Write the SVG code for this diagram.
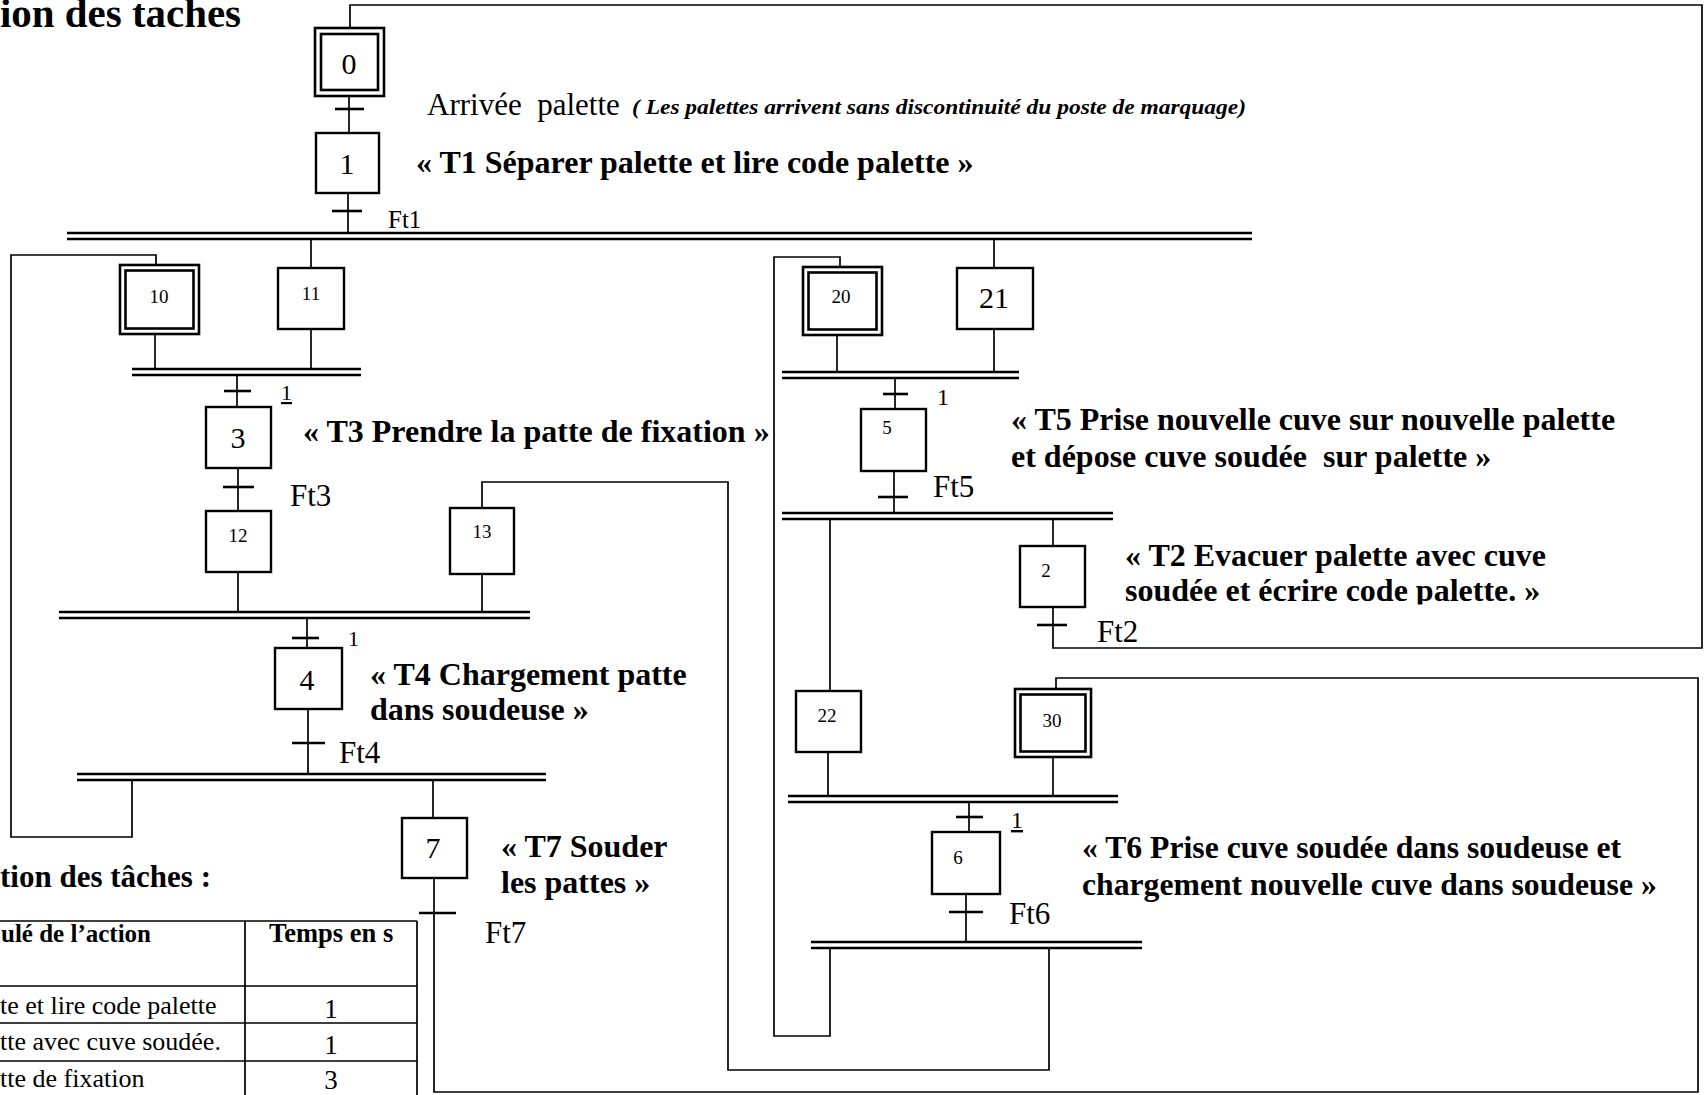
<svg xmlns="http://www.w3.org/2000/svg" width="1705" height="1095" viewBox="0 0 1705 1095">
<style>
.ln{fill:none;stroke:#000;stroke-width:1.7}
.bar{fill:none;stroke:#000;stroke-width:2.7}
.tk{fill:none;stroke:#000;stroke-width:2.6}
.box{fill:#fff;stroke:#000;stroke-width:2.4}
.dbl{fill:#fff;stroke:#000;stroke-width:2.6}
.tb{fill:none;stroke:#000;stroke-width:1.7}
text{font-family:"Liberation Serif","Times New Roman",serif;fill:#000}
.num{font-size:30px;text-anchor:middle}
.sn{font-size:19px;text-anchor:middle}
.lab{font-size:32px;font-weight:bold}
.ft{font-size:31px}
.one{font-size:22px}
.row{font-size:26px}
.hd{font-size:25px;font-weight:bold}
</style>
<defs>
<clipPath id="clipT2"><rect x="1100" y="520" width="500" height="84.5"/></clipPath>
</defs>
<rect x="0" y="0" width="1705" height="1095" fill="#fff"/>

<text x="0" y="27" style="font-size:40px;font-weight:bold" textLength="241" lengthAdjust="spacingAndGlyphs">ion des taches</text>

<g id="connectors">
  <path class="ln" d="M349,96 V133"/>
  <path class="tk" d="M335,109 H364"/>
  <path class="ln" d="M348,193 V233"/>
  <path class="tk" d="M332,211 H362"/>
  <path class="bar" d="M67,233 H1252 M67,239 H1252"/>
  <path class="ln" d="M311,239 V268"/>
  <path class="ln" d="M994,239 V268"/>
  <path class="ln" d="M1053,607 V648 H1702 V5 H350 V28"/>
  <path class="tk" d="M1037,625 H1067"/>
  <path class="ln" d="M132,780 V837 H11 V255 H156 V265"/>
  <path class="ln" d="M155,334 V369"/>
  <path class="ln" d="M311,329 V369"/>
  <path class="bar" d="M132,369 H361 M132,375 H361"/>
  <path class="ln" d="M237,375 V407"/>
  <path class="tk" d="M224,391 H251"/>
  <path class="ln" d="M238,468 V511"/>
  <path class="tk" d="M223,487 H254"/>
  <path class="ln" d="M238,572 V612"/>
  <path class="ln" d="M482,574 V612"/>
  <path class="bar" d="M59,612 H530 M59,618 H530"/>
  <path class="ln" d="M482,508 V482 H728 V1070 H1049 V947"/>
  <path class="ln" d="M307,618 V648"/>
  <path class="tk" d="M292,638 H319"/>
  <path class="ln" d="M308,709 V774"/>
  <path class="tk" d="M292,743 H325"/>
  <path class="bar" d="M77,774 H546 M77,780 H546"/>
  <path class="ln" d="M433,780 V818"/>
  <path class="ln" d="M434,878 V1092 H1698 V678 H1056 V689"/>
  <path class="tk" d="M419,913 H456"/>
  <path class="ln" d="M840,267 V257 H774 V1036 H830 V947"/>
  <path class="ln" d="M837,335 V372"/>
  <path class="ln" d="M994,329 V372"/>
  <path class="bar" d="M782,372 H1019 M782,378 H1019"/>
  <path class="ln" d="M895,378 V409"/>
  <path class="tk" d="M883,394 H908"/>
  <path class="ln" d="M894,471 V513"/>
  <path class="tk" d="M878,497 H908"/>
  <path class="bar" d="M782,513 H1113 M782,519 H1113"/>
  <path class="ln" d="M830,519 V691"/>
  <path class="ln" d="M1053,519 V546"/>
  <path class="ln" d="M828,752 V796"/>
  <path class="ln" d="M1053,757 V796"/>
  <path class="bar" d="M788,796 H1118 M788,802 H1118"/>
  <path class="ln" d="M969,802 V832"/>
  <path class="tk" d="M956,817 H983"/>
  <path class="ln" d="M966,894 V942"/>
  <path class="tk" d="M949,912 H983"/>
  <path class="bar" d="M811,942 H1142 M811,948 H1142"/>
</g>

<g id="step0"><rect class="dbl" x="315" y="28" width="69" height="68"/><rect class="dbl" x="321" y="34" width="57" height="56"/><text class="num" x="349" y="74">0</text></g>
<g id="step1"><rect class="box" x="316" y="133" width="63" height="60"/><text class="num" x="347" y="174">1</text></g>
<g id="step10"><rect class="dbl" x="120" y="265" width="79" height="69"/><rect class="dbl" x="125.5" y="270.5" width="68" height="58"/><text class="sn" x="159" y="303">10</text></g>
<g id="step11"><rect class="box" x="278" y="268" width="66" height="61"/><text class="sn" x="311" y="300">11</text></g>
<g id="step3"><rect class="box" x="206" y="407" width="65" height="61"/><text class="num" x="238" y="448">3</text></g>
<g id="step12"><rect class="box" x="206" y="511" width="65" height="61"/><text class="sn" x="238" y="542">12</text></g>
<g id="step13"><rect class="box" x="450" y="508" width="64" height="66"/><text class="sn" x="482" y="538">13</text></g>
<g id="step4"><rect class="box" x="275" y="648" width="67" height="61"/><text class="num" x="307" y="690">4</text></g>
<g id="step7"><rect class="box" x="402" y="818" width="65" height="60"/><text class="num" x="433" y="858">7</text></g>
<g id="step20"><rect class="dbl" x="803" y="267" width="79" height="68"/><rect class="dbl" x="808.5" y="272.5" width="68" height="57"/><text class="sn" x="841" y="303">20</text></g>
<g id="step21"><rect class="box" x="957" y="268" width="76" height="61"/><text class="num" x="994" y="308">21</text></g>
<g id="step5"><rect class="box" x="861" y="409" width="65" height="62"/><text class="sn" x="887" y="434">5</text></g>
<g id="step2"><rect class="box" x="1020" y="546" width="65" height="61"/><text class="sn" x="1046" y="577">2</text></g>
<g id="step22"><rect class="box" x="796" y="691" width="65" height="61"/><text class="sn" x="827" y="722">22</text></g>
<g id="step30"><rect class="dbl" x="1015" y="689" width="76" height="68"/><rect class="dbl" x="1020.5" y="694.5" width="65" height="57"/><text class="sn" x="1052" y="727">30</text></g>
<g id="step6"><rect class="box" x="932" y="832" width="68" height="62"/><text class="sn" x="958" y="864">6</text></g>

<g id="receptivities">
  <text class="ft" x="388" y="228" style="font-size:25px">Ft1</text>
  <text class="ft" x="290" y="506">Ft3</text>
  <text class="ft" x="339" y="763">Ft4</text>
  <text class="ft" x="485" y="943">Ft7</text>
  <text class="ft" x="933" y="497">Ft5</text>
  <text class="ft" x="1097" y="642">Ft2</text>
  <text class="ft" x="1009" y="924">Ft6</text>
  <text class="one" x="281" y="400" text-decoration="underline">1</text>
  <text class="one" x="348" y="646">1</text>
  <text class="one" x="937" y="405" style="font-size:24px">1</text>
  <text class="one" x="1011" y="828" style="font-size:24px" text-decoration="underline">1</text>
</g>

<g id="label-arrivee">
  <text x="427" y="115" style="font-size:31px" xml:space="preserve">Arrivée  palette</text>
  <text x="632" y="114" style="font-size:22px;font-style:italic;font-weight:bold" textLength="614" lengthAdjust="spacingAndGlyphs">( Les palettes arrivent sans discontinuité du poste de marquage)</text>
</g>
<g id="label-T1"><text class="lab" x="416" y="173">« T1 Séparer palette et lire code palette »</text></g>
<g id="label-T3"><text class="lab" x="303" y="442">« T3 Prendre la patte de fixation »</text></g>
<g id="label-T4"><text class="lab" x="370" y="685">« T4 Chargement patte</text><text class="lab" x="370" y="720">dans soudeuse »</text></g>
<g id="label-T7"><text class="lab" x="501" y="857">« T7 Souder</text><text class="lab" x="501" y="893">les pattes »</text></g>
<g id="label-T5"><text class="lab" x="1011" y="430">« T5 Prise nouvelle cuve sur nouvelle palette</text><text class="lab" x="1011" y="467" xml:space="preserve">et dépose cuve soudée  sur palette »</text></g>
<g id="label-T2" clip-path="url(#clipT2)"><text class="lab" x="1125" y="566">« T2 Evacuer palette avec cuve</text><text class="lab" x="1125" y="601">soudée et écrire code palette. »</text></g>
<g id="label-T6"><text class="lab" x="1082" y="858" style="font-size:31.7px">« T6 Prise cuve soudée dans soudeuse et</text><text class="lab" x="1082" y="895" style="font-size:31.7px">chargement nouvelle cuve dans soudeuse »</text></g>

<g id="table">
  <text x="0" y="887" style="font-size:31px;font-weight:bold">tion des tâches :</text>
  <path class="tb" d="M0,921 H417 M0,986 H417 M0,1023 H417 M0,1061 H417 M245,921 V1095 M417,921 V1095"/>
  <text class="hd" x="1" y="942">ulé de l’action</text>
  <text class="hd" x="269" y="942" style="font-size:26.5px">Temps en s</text>
  <text class="row" x="0" y="1014">te et lire code palette</text>
  <text class="row" x="331" y="1018" text-anchor="middle" style="font-size:27px">1</text>
  <text class="row" x="0" y="1050">tte avec cuve soudée.</text>
  <text class="row" x="331" y="1054" text-anchor="middle" style="font-size:27px">1</text>
  <text class="row" x="0" y="1087">tte de fixation</text>
  <text class="row" x="331" y="1089" text-anchor="middle" style="font-size:27px">3</text>
</g>
</svg>
